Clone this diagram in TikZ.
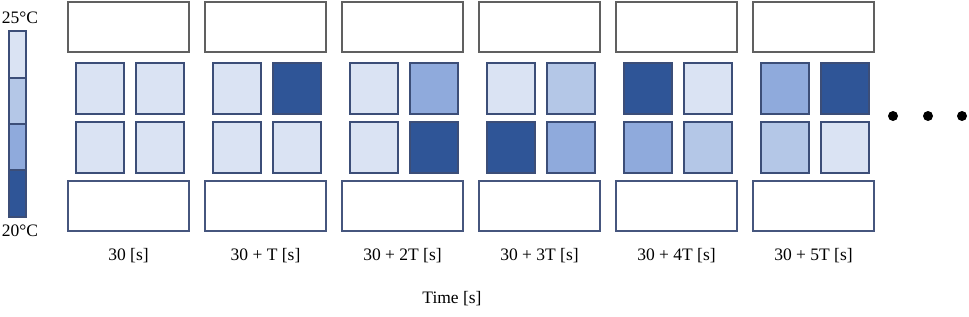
\documentclass[tikz,border=0pt]{standalone}
\usepackage{fontspec}
\setmainfont{Liberation Serif}
\usetikzlibrary{positioning}
\definecolor{lvA}{HTML}{DAE3F3}
\definecolor{lvB}{HTML}{B4C7E7}
\definecolor{lvC}{HTML}{8FAADC}
\definecolor{lvD}{HTML}{2F5597}
\definecolor{cellc}{HTML}{3C4E78}
\definecolor{topc}{HTML}{606060}
\definecolor{botc}{HTML}{46567E}
\begin{document}
\begin{tikzpicture}[x=1pt,y=-1pt,line width=1.3pt,font=\fontsize{17.5}{20}\selectfont]
\useasboundingbox (0,0) rectangle (969,316);
% temperature scale
\foreach \y/\c in {31/lvA,78/lvB,124/lvC,170/lvD}{
 \draw[cellc,fill=\c] (9,\y) rectangle +(17,47);}
\node (hot) at (20,18){25°C};
\node (cold) at (20,231){20°C};
% one panel per time step
\foreach \i/\txt/\a/\b/\c/\d in {0/{30 [s]}/lvA/lvA/lvA/lvA,1/{30 + T [s]}/lvA/lvD/lvA/lvA,2/{30 + 2T [s]}/lvA/lvC/lvA/lvD,3/{30 + 3T [s]}/lvA/lvB/lvD/lvC,4/{30 + 4T [s]}/lvD/lvA/lvC/lvB,5/{30 + 5T [s]}/lvC/lvD/lvB/lvA}{
 \pgfmathsetmacro\px{68+137*\i}
 \draw[topc] (\px,2) rectangle +(121,50);
 \draw[botc] (\px,181) rectangle +(121,50);
 \draw[cellc,fill=\a] (\px+8,63) rectangle +(48,51);
 \draw[cellc,fill=\b] (\px+68,63) rectangle +(48,51);
 \draw[cellc,fill=\c] (\px+8,122) rectangle +(48,51);
 \draw[cellc,fill=\d] (\px+68,122) rectangle +(48,51);
 \node (t\i) at (\px+60.5,256){\txt};
}
\foreach \x in {893,928,962} \fill (\x,116) circle (5);
\node (time) at (452,299){Time [s]};
\end{tikzpicture}
\end{document}
